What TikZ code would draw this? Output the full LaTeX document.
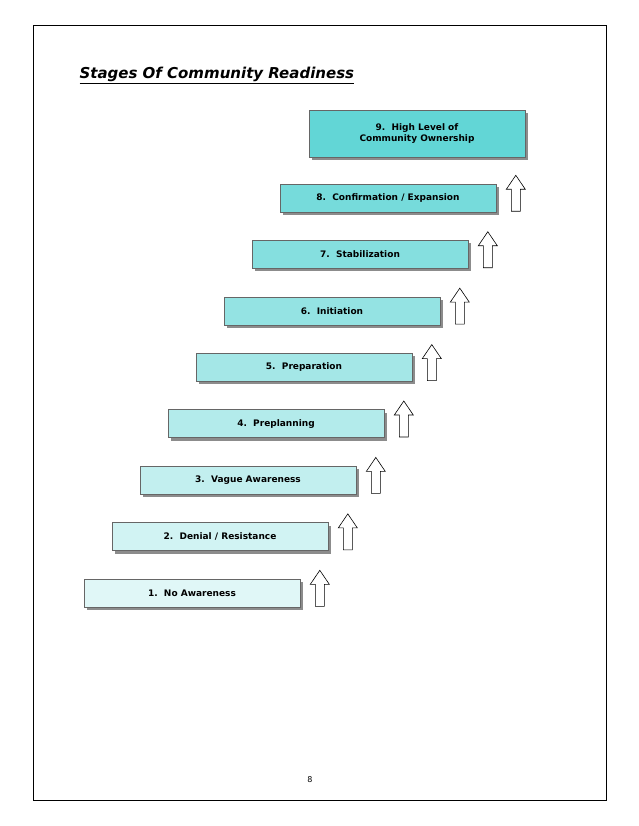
\documentclass[tikz,border=0pt]{standalone}
\usepackage{fontspec}
\setmainfont{DejaVu Sans}
\definecolor{lo}{HTML}{E0F7F7}
\definecolor{hi}{HTML}{62D6D6}
\begin{document}
\begin{tikzpicture}[x=1pt,y=-1pt,
  stage/.style={draw=black!60, line width=0.6pt, minimum width=216pt, minimum height=28pt, inner sep=0pt, font=\bfseries\fontsize{9}{11}\selectfont, align=center, text=black},
  shadowbox/.style={fill=black!45, draw=none, minimum width=216pt, minimum height=28pt, inner sep=0pt},
  uparrow/.style={draw=black, fill=white, line width=0.6pt, line join=miter}]
\useasboundingbox (0,0) rectangle (638,826);
\draw[line width=0.8pt] (33,25) rectangle (606,800);
\node[anchor=base west, font=\bfseries\itshape\fontsize{15}{18}\selectfont] (title) at (76,79) {\underline{Stages Of Community Readiness}};
\foreach \i/\txt/\col in {1/{1.\ \ No Awareness}/0, 2/{2.\ \ Denial / Resistance}/12, 3/{3.\ \ Vague Awareness}/24, 4/{4.\ \ Preplanning}/36, 5/{5.\ \ Preparation}/48, 6/{6.\ \ Initiation}/60, 7/{7.\ \ Stabilization}/72, 8/{8.\ \ Confirmation / Expansion}/84}{
  \pgfmathsetmacro{\cx}{192+28*(\i-1)}
  \pgfmathsetmacro{\cy}{593-56.43*(\i-1)}
  \colorlet{bx}{hi!\col!lo}
  \node[shadowbox] (sh\i) at (\cx+3,\cy+3) {};
  \node[stage, fill=bx] (s\i) at (\cx,\cy) {\txt};
  \coordinate (a\i) at ([xshift=10pt,yshift=1pt]s\i.south east);
  \draw[uparrow] (a\i) ++(5,0) -- ++(9,0) -- ++(0,-22) -- ++(5,0) -- ++(-9.5,-14) -- ++(-9.5,14) -- ++(5,0) -- cycle;
}
\node[shadowbox, minimum height=47pt] (sh9) at (420,137) {};
\node[stage, fill=hi, minimum height=47pt] (s9) at (417,134) {9.\ \ High Level of\\Community Ownership};
\node[font=\fontsize{8}{10}\selectfont] (page) at (310,780) {8};
\end{tikzpicture}
\end{document}
